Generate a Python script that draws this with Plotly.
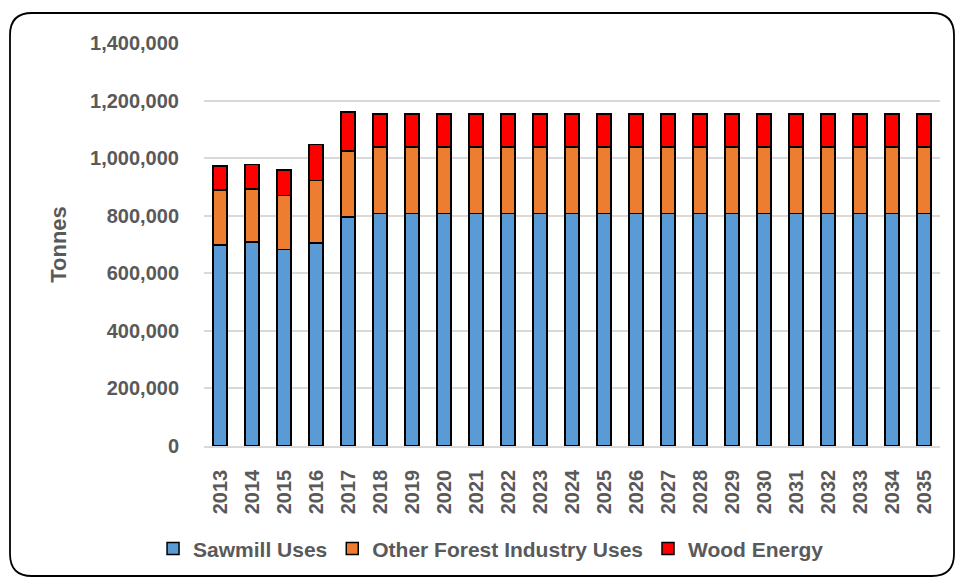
import plotly.graph_objects as go

years = [str(y) for y in range(2013, 2036)]
sawmill = [699000, 709000, 683000, 705000, 796000] + [807000] * 18
other_forest = [190000, 183000, 188000, 217000, 229000] + [231000] * 18
wood_energy = [83000, 86000, 87000, 126000, 136000] + [115000] * 18

series = [
    ("Sawmill Uses", sawmill, "#5B9BD5"),
    ("Other Forest Industry Uses", other_forest, "#ED7D31"),
    ("Wood Energy", wood_energy, "#FF0000"),
]

FONT = "Liberation Sans"
GREY = "#595959"

fig = go.Figure()
for name, vals, color in series:
    fig.add_trace(go.Bar(
        x=years, y=vals, name=name,
        marker=dict(color=color, line=dict(color="#000000", width=1.5)),
    ))

W, H = 957, 579
ml, mr, mt, mb = 204, 17, 43, 133
pw, ph = W - ml - mr, H - mt - mb


def px_to_paper(x, y):
    return (x - ml) / pw, (H - mb - y) / ph


# rounded outer frame
x0, y0, x1, y1, r = 10, 13, 954, 576, 22
pts = [
    ("M", x0 + r, y0), ("L", x1 - r, y0), ("Q", x1, y0, x1, y0 + r),
    ("L", x1, y1 - r), ("Q", x1, y1, x1 - r, y1), ("L", x0 + r, y1),
    ("Q", x0, y1, x0, y1 - r), ("L", x0, y0 + r), ("Q", x0, y0, x0 + r, y0),
]
path = ""
for p in pts:
    cmd, coords = p[0], p[1:]
    segs = []
    for i in range(0, len(coords), 2):
        px, py = px_to_paper(coords[i], coords[i + 1])
        segs.append(f"{px:.5f},{py:.5f}")
    path += cmd + " ".join(segs) + " "
path += "Z"

fig.update_layout(
    barmode="stack",
    bargap=0.56,
    width=W, height=H,
    margin=dict(l=ml, r=mr, t=mt, b=mb, autoexpand=False),
    plot_bgcolor="white",
    paper_bgcolor="white",
    font=dict(family=FONT, color=GREY, size=15),
    shapes=[dict(type="path", xref="paper", yref="paper", path=path,
                 line=dict(color="#000000", width=1.8), layer="below")],
    yaxis=dict(
        range=[0, 1400000], dtick=200000, tickformat=",d",
        showgrid=True, gridcolor="#D9D9D9", gridwidth=1.5,
        zeroline=False, showline=False, ticks="", automargin=False,
        tickfont=dict(family=FONT, size=20, color=GREY, weight="bold"),
        ticklabelstandoff=24,
        title=dict(text="Tonnes", standoff=17,
                   font=dict(family=FONT, size=22, color=GREY, weight="bold")),
    ),
    xaxis=dict(
        tickangle=-90, showline=True, linecolor="#D9D9D9", linewidth=1.5,
        ticks="", automargin=False,
        tickfont=dict(family=FONT, size=20, color=GREY, weight="bold"),
        ticklabelstandoff=14,
    ),
    legend=dict(
        orientation="h", x=0.39, xanchor="center", y=-0.255, yanchor="middle",
        font=dict(family=FONT, size=21, color=GREY, weight="bold"),
        traceorder="normal", itemwidth=30,
    ),
)

fig.write_html("out.html")
